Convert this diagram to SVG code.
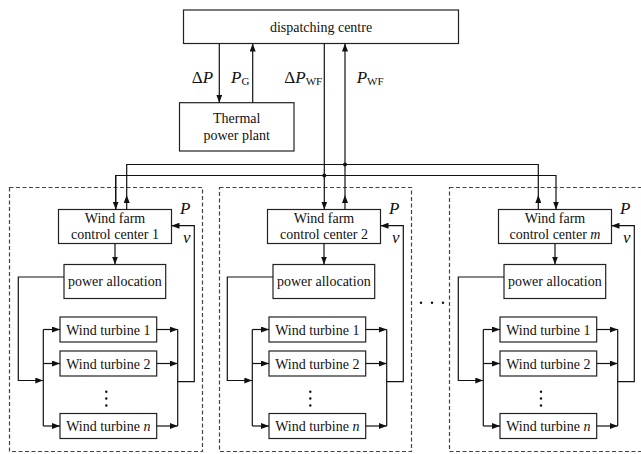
<svg xmlns="http://www.w3.org/2000/svg" width="641" height="454" viewBox="0 0 641 454">
<defs>
<style>
.box{fill:#fff;stroke:#222;stroke-width:1.2}
.dash{fill:none;stroke:#444;stroke-width:1.2;stroke-dasharray:4,2.5}
.ln{fill:none;stroke:#111;stroke-width:1.2}
.t{font-family:"Liberation Serif","Times New Roman",serif;font-size:14px;fill:#111;text-anchor:middle}
.lb{font-family:"Liberation Serif","Times New Roman",serif;font-size:17px;fill:#111}
.sub{font-size:11px;font-style:normal}
.dot{fill:#111}
</style>
<marker id="ah" markerWidth="8" markerHeight="6" refX="8" refY="3" orient="auto" markerUnits="userSpaceOnUse">
<path d="M0,0 L8,3 L0,6 z" fill="#111"/>
</marker>
<g id="col">
<rect class="box" x="58.5" y="209.5" width="113" height="34"/>
<text class="t" x="115" y="222.5">Wind farm</text>
<rect class="box" x="64" y="264.5" width="101.7" height="34"/>
<text class="t" x="114.8" y="286">power allocation</text>
<rect class="box" x="60" y="317" width="96.7" height="25"/>
<text class="t" x="108.3" y="334.5">Wind turbine 1</text>
<rect class="box" x="60" y="351" width="96.7" height="25"/>
<text class="t" x="108.3" y="368.5">Wind turbine 2</text>
<rect class="box" x="60" y="413.5" width="96.7" height="25"/>
<text class="t" x="108.3" y="431">Wind turbine <tspan font-style="italic">n</tspan></text>
<text class="lb" x="180" y="213.5" font-style="italic">P</text>
<text class="lb" x="183" y="243" font-style="italic">v</text>
<path class="ln" d="M115,243.5 V264.5" marker-end="url(#ah)"/>
<path class="ln" d="M64,277 H18.3 V380.5 H43.3" marker-end="url(#ah)"/>
<path class="ln" d="M43.3,329.5 V426"/>
<path class="ln" d="M43.3,329.5 H60" marker-end="url(#ah)"/>
<path class="ln" d="M43.3,363.5 H60" marker-end="url(#ah)"/>
<path class="ln" d="M43.3,426 H60" marker-end="url(#ah)"/>
<path class="ln" d="M156.7,329.5 H177.7" marker-end="url(#ah)"/>
<path class="ln" d="M156.7,363.5 H177.7" marker-end="url(#ah)"/>
<path class="ln" d="M156.7,426 H177.7" marker-end="url(#ah)"/>
<path class="ln" d="M177.7,329.5 V426"/>
<path class="ln" d="M177.7,381.7 H194.3 V225.7 H171.5" marker-end="url(#ah)"/>
</g>
</defs>

<g id="dispatching-centre">
<rect class="box" x="183.5" y="10" width="275" height="33.5"/>
<text class="t" x="321" y="31.5">dispatching centre</text>
</g>

<g id="thermal-power-plant">
<rect class="box" x="179.5" y="102.7" width="114.5" height="48.3"/>
<text class="t" x="236.7" y="122.7">Thermal</text>
<text class="t" x="236.7" y="140">power plant</text>
</g>

<g id="wind-farm-1">
<rect class="dash" x="9.5" y="187.5" width="193" height="264"/>
<use href="#col"/>
<text class="t" x="115" y="238.5">control center 1</text>
<circle class="dot" cx="106.3" cy="391.7" r="1.2"/>
<circle class="dot" cx="106.3" cy="398.5" r="1.2"/>
<circle class="dot" cx="106.3" cy="405.5" r="1.2"/>
</g>

<g id="wind-farm-2">
<rect class="dash" x="219.5" y="187.5" width="192" height="264"/>
<use href="#col" transform="translate(209,0)"/>
<text class="t" x="324" y="238.5">control center 2</text>
<circle class="dot" cx="310.3" cy="391.7" r="1.2"/>
<circle class="dot" cx="310.3" cy="398.5" r="1.2"/>
<circle class="dot" cx="310.3" cy="405.5" r="1.2"/>
</g>

<g id="wind-farm-m">
<rect class="dash" x="449.5" y="187.5" width="195" height="264"/>
<use href="#col" transform="translate(440,0)"/>
<text class="t" x="555" y="238.5">control center <tspan font-style="italic">m</tspan></text>
<circle class="dot" cx="541" cy="391.7" r="1.2"/>
<circle class="dot" cx="541" cy="398.5" r="1.2"/>
<circle class="dot" cx="541" cy="405.5" r="1.2"/>
</g>

<g id="ellipsis">
<circle class="dot" cx="421" cy="302.7" r="1.2"/>
<circle class="dot" cx="432" cy="302.7" r="1.2"/>
<circle class="dot" cx="443" cy="302.7" r="1.2"/>
</g>

<g id="connectors">
<path class="ln" d="M219.3,43.5 V102.7" marker-end="url(#ah)"/>
<path class="ln" d="M252.7,102.7 V43.5" marker-end="url(#ah)"/>
<path class="ln" d="M324.3,43.5 V209.5" marker-end="url(#ah)"/>
<path class="ln" d="M345,209.5 V195" marker-end="url(#ah)"/>
<path class="ln" d="M345,195 V43.5" marker-end="url(#ah)"/>
<path class="ln" d="M126.7,209.5 V195" marker-end="url(#ah)"/>
<path class="ln" d="M126.7,195 V164.5 H538.3 V195"/>
<path class="ln" d="M538.3,209.5 V195" marker-end="url(#ah)"/>
<path class="ln" d="M115.7,209.5 V175.5 H556 V209.5" marker-end="url(#ah)"/>
<path class="ln" d="M115.7,175.5 V209.5" marker-end="url(#ah)"/>
<circle class="dot" cx="345" cy="164.5" r="2"/>
<circle class="dot" cx="324.3" cy="175.5" r="2"/>
<text class="lb" x="191.7" y="82.7">Δ<tspan font-style="italic">P</tspan></text>
<text class="lb" x="231" y="82.7" font-style="italic">P<tspan class="sub" dy="2.5">G</tspan></text>
<text class="lb" x="284.3" y="82.7">Δ<tspan font-style="italic">P</tspan><tspan class="sub" dy="2.5">WF</tspan></text>
<text class="lb" x="356.7" y="82.7" font-style="italic">P<tspan class="sub" dy="2.5">WF</tspan></text>
</g>
</svg>
